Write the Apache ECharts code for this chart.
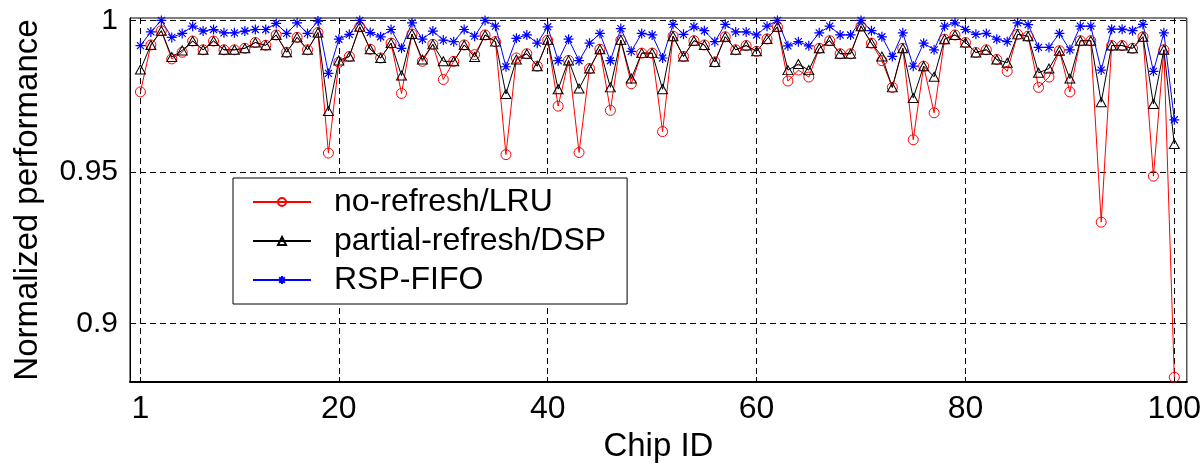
<!DOCTYPE html>
<html>
<head>
<meta charset="utf-8">
<title>Normalized performance per chip</title>
<script src="https://cdn.jsdelivr.net/npm/echarts@6/dist/echarts.min.js"></script>
<style>
  html, body { margin: 0; padding: 0; background: #fff; }
  #chart { width: 1204px; height: 468px; }
</style>
</head>
<body>
<div id="chart"></div>
<script>
// Normalized performance of each chip (chip IDs 1..100) under three schemes
const noRefreshLRU = [
  0.9764, 0.9919, 0.9966, 0.9873, 0.9895, 0.9932, 0.9903, 0.9932, 0.9903, 0.9903,
  0.9908, 0.9927, 0.9918, 0.9952, 0.9895, 0.9944, 0.9903, 0.9960, 0.9562, 0.9862,
  0.9881, 0.9979, 0.9905, 0.9876, 0.9925, 0.9759, 0.9955, 0.9865, 0.9921, 0.9805,
  0.9865, 0.9919, 0.9887, 0.9952, 0.9930, 0.9557, 0.9876, 0.9890, 0.9849, 0.9935,
  0.9717, 0.9868, 0.9564, 0.9841, 0.9905, 0.9703, 0.9935, 0.9791, 0.9892, 0.9892,
  0.9633, 0.9948, 0.9881, 0.9933, 0.9919, 0.9863, 0.9946, 0.9903, 0.9917, 0.9898,
  0.9939, 0.9979, 0.9800, 0.9836, 0.9813, 0.9908, 0.9933, 0.9890, 0.9890, 0.9981,
  0.9925, 0.9867, 0.9779, 0.9908, 0.9606, 0.9849, 0.9695, 0.9938, 0.9952, 0.9927,
  0.9894, 0.9903, 0.9871, 0.9832, 0.9954, 0.9948, 0.9779, 0.9813, 0.9900, 0.9764,
  0.9933, 0.9933, 0.9334, 0.9917, 0.9917, 0.9908, 0.9946, 0.9486, 0.9903, 0.8822
];
const partialRefreshDSP = [
  0.9838, 0.9919, 0.9966, 0.9879, 0.9901, 0.9932, 0.9903, 0.9932, 0.9903, 0.9903,
  0.9908, 0.9927, 0.9918, 0.9952, 0.9895, 0.9944, 0.9903, 0.9960, 0.9701, 0.9868,
  0.9881, 0.9979, 0.9905, 0.9876, 0.9925, 0.9818, 0.9955, 0.9871, 0.9921, 0.9865,
  0.9865, 0.9919, 0.9879, 0.9952, 0.9930, 0.9757, 0.9871, 0.9890, 0.9849, 0.9935,
  0.9773, 0.9868, 0.9775, 0.9841, 0.9905, 0.9779, 0.9935, 0.9808, 0.9892, 0.9892,
  0.9773, 0.9948, 0.9881, 0.9933, 0.9919, 0.9863, 0.9946, 0.9903, 0.9917, 0.9898,
  0.9939, 0.9979, 0.9836, 0.9856, 0.9836, 0.9908, 0.9933, 0.9890, 0.9890, 0.9981,
  0.9925, 0.9881, 0.9779, 0.9908, 0.9744, 0.9849, 0.9814, 0.9938, 0.9952, 0.9927,
  0.9894, 0.9903, 0.9871, 0.9860, 0.9954, 0.9948, 0.9827, 0.9841, 0.9900, 0.9808,
  0.9933, 0.9933, 0.9730, 0.9917, 0.9917, 0.9908, 0.9946, 0.9724, 0.9903, 0.9592
];
const rspFIFO = [
  0.9917, 0.9962, 1.0000, 0.9944, 0.9957, 0.9981, 0.9965, 0.9970, 0.9959, 0.9959,
  0.9965, 0.9970, 0.9970, 0.9990, 0.9957, 0.9992, 0.9957, 0.9998, 0.9825, 0.9938,
  0.9954, 1.0000, 0.9960, 0.9946, 0.9970, 0.9908, 0.9992, 0.9938, 0.9965, 0.9935,
  0.9930, 0.9970, 0.9948, 1.0000, 0.9981, 0.9847, 0.9941, 0.9952, 0.9925, 0.9979,
  0.9867, 0.9938, 0.9867, 0.9925, 0.9957, 0.9867, 0.9973, 0.9898, 0.9957, 0.9952,
  0.9876, 0.9987, 0.9954, 0.9979, 0.9966, 0.9930, 0.9987, 0.9962, 0.9962, 0.9952,
  0.9981, 1.0000, 0.9916, 0.9930, 0.9916, 0.9959, 0.9981, 0.9952, 0.9952, 1.0000,
  0.9966, 0.9946, 0.9881, 0.9959, 0.9849, 0.9925, 0.9903, 0.9981, 0.9992, 0.9970,
  0.9954, 0.9957, 0.9938, 0.9930, 0.9992, 0.9986, 0.9911, 0.9911, 0.9957, 0.9903,
  0.9981, 0.9981, 0.9836, 0.9971, 0.9971, 0.9966, 0.9987, 0.9832, 0.9959, 0.9672
];

const seriesNames = ['no-refresh/LRU', 'partial-refresh/DSP', 'RSP-FIFO'];
const xTicks = [1, 20, 40, 60, 80, 100];
const yTicks = [0.9, 0.95, 1];

const FONT = '"Liberation Sans", Arial, Helvetica, sans-serif';
// eight-armed asterisk marker
const ASTERISK = 'path://M5 0L5 10M0 5L10 5M1.5 1.5L8.5 8.5M1.5 8.5L8.5 1.5';

function points(values) {
  return values.map((v, i) => [i + 1, v]);
}

const chart = echarts.init(document.getElementById('chart'), null, { renderer: 'canvas' });

chart.setOption({
  backgroundColor: '#ffffff',
  animation: false,
  grid: {
    left: 130, right: 16, top: 18, bottom: 80,
    show: true, borderColor: '#000', borderWidth: 1, backgroundColor: 'transparent'
  },
  legend: {
    orient: 'vertical',
    left: 233, top: 178,
    padding: [7, 21, 7, 19],
    itemGap: 5,
    itemWidth: 58,
    itemHeight: 10,
    backgroundColor: '#fff',
    borderColor: '#000',
    borderWidth: 1,
    borderRadius: 0,
    selectedMode: false,
    data: seriesNames,
    textStyle: {
      fontFamily: FONT, fontSize: 32, color: '#000',
      lineHeight: 34, padding: [0, 0, 0, 18]
    }
  },
  xAxis: {
    type: 'value',
    min: 0, max: 101.2,
    name: 'Chip ID',
    nameLocation: 'middle',
    nameGap: 38,
    nameTextStyle: { fontFamily: FONT, fontSize: 33, color: '#000' },
    axisLine: { show: true, onZero: false, lineStyle: { color: '#000', width: 2 } },
    axisTick: { show: true, inside: true, length: 5, customValues: xTicks, lineStyle: { color: '#000' } },
    axisLabel: {
      customValues: xTicks, margin: 11,
      fontFamily: FONT, fontSize: 32, color: '#000'
    },
    splitLine: { show: true, lineStyle: { color: '#000', width: 1, type: [6, 4] } }
  },
  yAxis: {
    type: 'value',
    min: 0.8806, max: 1.0008,
    name: 'Normalized performance',
    nameLocation: 'middle',
    nameGap: 86,
    nameTextStyle: { fontFamily: FONT, fontSize: 33, color: '#000' },
    axisLine: { show: true, lineStyle: { color: '#000', width: 1 } },
    axisTick: { show: true, inside: true, length: 5, customValues: yTicks, lineStyle: { color: '#000' } },
    axisLabel: {
      customValues: yTicks, margin: 12,
      fontFamily: FONT, fontSize: 30, color: '#000',
      formatter: v => String(v)
    },
    splitLine: { show: true, lineStyle: { color: '#000', width: 1, type: [6, 4] } }
  },
  series: [
    {
      name: seriesNames[0],
      type: 'line',
      data: points(noRefreshLRU),
      symbol: 'circle',
      symbolSize: 10,
      showAllSymbol: true,
      lineStyle: { color: '#ff0000', width: 1 },
      itemStyle: { color: 'rgba(255,255,255,0)', borderColor: '#ff0000', borderWidth: 1 },
      emphasis: { disabled: true }
    },
    {
      name: seriesNames[1],
      type: 'line',
      data: points(partialRefreshDSP),
      symbol: 'triangle',
      symbolSize: [10, 9],
      showAllSymbol: true,
      lineStyle: { color: '#000000', width: 1 },
      itemStyle: { color: 'rgba(255,255,255,0)', borderColor: '#000000', borderWidth: 1 },
      emphasis: { disabled: true }
    },
    {
      name: seriesNames[2],
      type: 'line',
      data: points(rspFIFO),
      symbol: ASTERISK,
      symbolSize: 10,
      symbolKeepAspect: true,
      showAllSymbol: true,
      lineStyle: { color: '#0000ff', width: 1 },
      itemStyle: { color: 'rgba(0,0,255,0)', borderColor: '#0000ff', borderWidth: 1.2 },
      emphasis: { disabled: true }
    }
  ]
});
</script>
</body>
</html>
